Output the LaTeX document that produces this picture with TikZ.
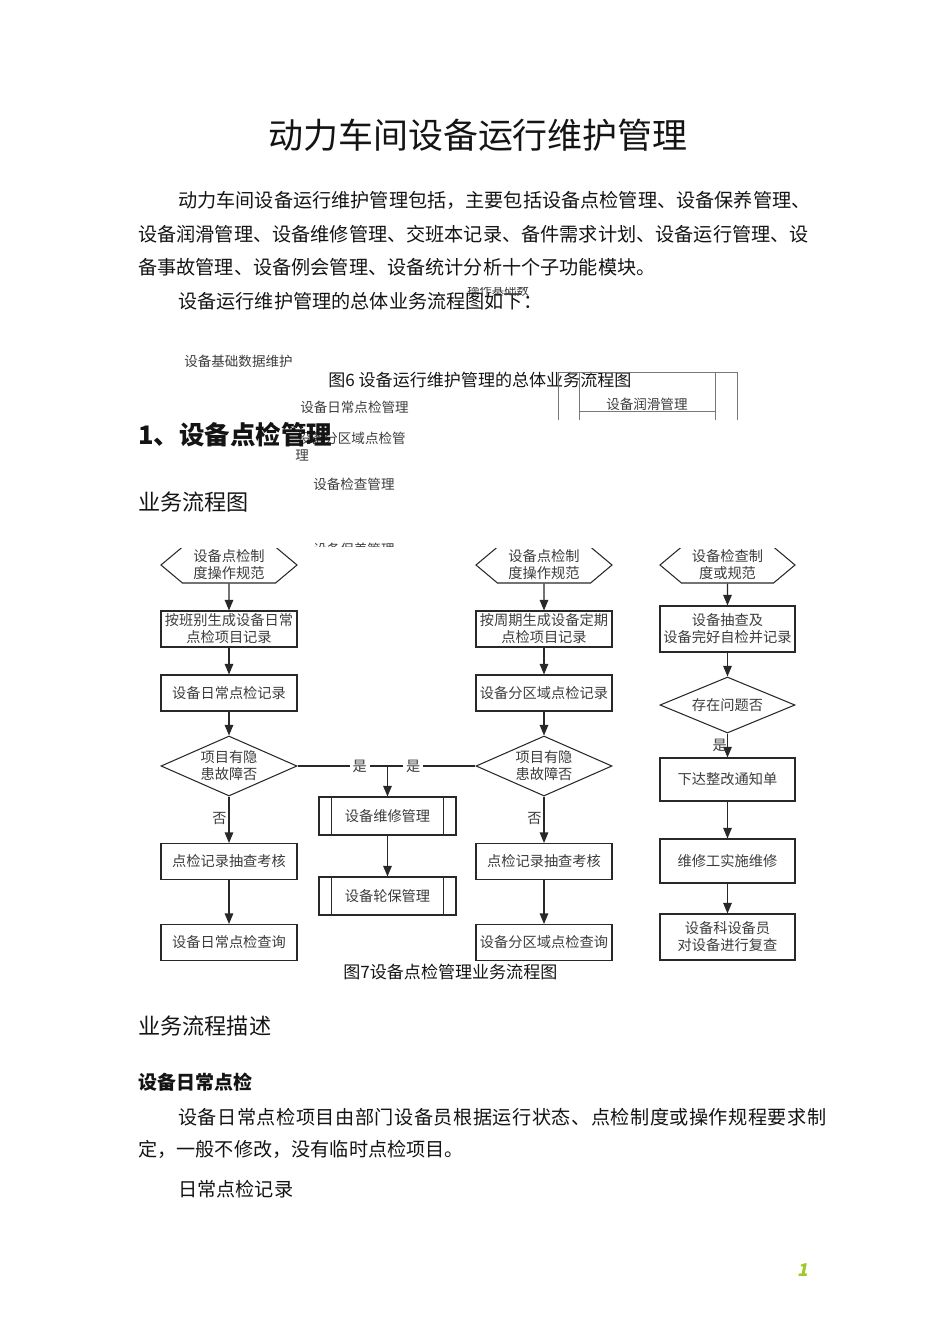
\documentclass[tikz,border=0pt]{standalone}
\usepackage{fontspec}
\setmainfont{Noto Sans CJK SC}
\usetikzlibrary{positioning,shapes.geometric,shapes.symbols,arrows.meta}
\definecolor{Ink}{RGB}{20,20,20}
\definecolor{Line}{RGB}{40,40,40}
\definecolor{Grey}{RGB}{60,60,60}
\definecolor{Faint}{RGB}{120,120,120}
\definecolor{Lime}{RGB}{160,200,40}

\begin{document}
\begin{tikzpicture}[x=0.2mm,y=-0.2mm,
    body/.style={anchor=west,inner sep=0pt,text=Ink,font=\fontsize{10.9}{13}\selectfont},
    head/.style={anchor=west,inner sep=0pt,text=Ink,font=\fontsize{12.6}{15}\selectfont},
    frag/.style={anchor=west,inner sep=0pt,text=Grey,font=\fontsize{7.7}{9}\selectfont},
    figcap/.style={anchor=west,inner sep=0pt,text=Ink,font=\fontsize{9.7}{11}\selectfont},
    proc/.style={rectangle,draw=Line,line width=0.6pt,minimum width=27.2mm,minimum height=7.2mm,inner sep=1pt,align=center,text=Grey,font=\fontsize{8.1}{9.7}\selectfont},
    hexa/.style={proc,signal,signal to=east and west,signal pointer angle=80},
    decide/.style={proc,diamond,aspect=2.3,inner sep=0pt,minimum height=12mm},
    sub/.style={proc,minimum width=27.4mm,minimum height=7.6mm},
    yes/.style={fill=white,inner sep=1.5pt,text=Grey,font=\fontsize{8.1}{9.7}\selectfont},
    arrow/.style={-{Triangle[length=2.1mm,width=1.7mm]},line width=0.6pt,draw=Line}
]
\useasboundingbox (0,0) rectangle (950,1344);

% Title and intro
\node[inner sep=0pt,text=Ink,font=\fontsize{19.9}{24}\selectfont] (title) at (478,135) {动力车间设备运行维护管理};
\node[body] (par1) at (178,200) {动力车间设备运行维护管理包括，主要包括设备点检管理、设备保养管理、};
\node[body] (par2) at (138,234) {设备润滑管理、设备维修管理、交班本记录、备件需求计划、设备运行管理、设};
\node[body] (par3) at (138,267) {备事故管理、设备例会管理、设备统计分析十个子功能模块。};
\node[body] (par4) at (178,301) {设备运行维护管理的总体业务流程图如下：};
\begin{scope}
  \clip (440,287) rectangle (560,310);
  \node[frag,font=\fontsize{7}{8}\selectfont] (cut1) at (467,291) {操作基础数};
\end{scope}

% Fragment of figure 6
\node[frag] (base) at (184,361) {设备基础数据维护};
\node[figcap] (cap6) at (328,380) {图6 设备运行维护管理的总体业务流程图};
\node[frag] (daily) at (300,407) {设备日常点检管理};
\node[frag] (area) at (297,438) {设备分区域点检管};
\node[frag] (area2) at (295,455) {理};
\node[frag] (insp) at (313,484) {设备检查管理};
\node[frag] (lube) at (606,404) {设备润滑管理};
\begin{scope}
  \clip (300,520) rectangle (420,546);
  \node[frag] (keep) at (313,549) {设备保养管理};
\end{scope}
\draw[Faint,line width=0.4pt] (558,372) -- (558,420) (579,372) -- (579,420)
  (715,372) -- (715,420) (737,372) -- (737,420)
  (558,372) -- (737,372) (579,411) -- (715,411);

% Headings
\node[anchor=west,inner sep=0pt,text=Ink,font=\fontsize{14.5}{17}\selectfont\bfseries] (sec1) at (138,435) {1、设备点检管理};
\node[head] (flowhd) at (138,502) {业务流程图};

% Figure 7 flowchart
\begin{scope}
\clip (100,548) rectangle (850,1000);

% Column 1: daily check
\node[hexa] (hex1) at (229,565) {设备点检制\\度操作规范};
\node[proc] (gen1) at (229,629) {按班别生成设备日常\\点检项目记录};
\node[proc] (rec1) at (229,693) {设备日常点检记录};
\node[decide] (dec1) at (229,766) {项目有隐\\患故障否};
\node[proc] (chk1) at (229,861.5) {点检记录抽查考核};
\node[proc] (qry1) at (229,942.5) {设备日常点检查询};

\draw[arrow] (hex1) -- (gen1);
\draw[arrow] (gen1) -- (rec1);
\draw[arrow] (rec1) -- (dec1);
\draw[arrow] (dec1) -- node[left,pos=0.47,inner sep=1pt,text=Grey,font=\fontsize{8.1}{9.7}\selectfont] {否} (chk1);
\draw[arrow] (chk1) -- (qry1);

% Column 2: area check
\node[hexa] (hex2) at (544,565) {设备点检制\\度操作规范};
\node[proc] (gen2) at (544,629) {按周期生成设备定期\\点检项目记录};
\node[proc] (rec2) at (544,693) {设备分区域点检记录};
\node[decide] (dec2) at (544,766) {项目有隐\\患故障否};
\node[proc] (chk2) at (544,861.5) {点检记录抽查考核};
\node[proc] (qry2) at (544,942.5) {设备分区域点检查询};

\draw[arrow] (hex2) -- (gen2);
\draw[arrow] (gen2) -- (rec2);
\draw[arrow] (rec2) -- (dec2);
\draw[arrow] (dec2) -- node[left,pos=0.47,inner sep=1pt,text=Grey,font=\fontsize{8.1}{9.7}\selectfont] {否} (chk2);
\draw[arrow] (chk2) -- (qry2);

% Middle: repair
\node[sub] (fix) at (387.5,816) {设备维修管理};
\node[sub] (rot) at (387.5,896) {设备轮保管理};
\foreach \n in {fix,rot} {
  \draw[Line,line width=0.6pt] ([xshift=2.6mm]\n.north west) -- ([xshift=2.6mm]\n.south west);
  \draw[Line,line width=0.6pt] ([xshift=-2.6mm]\n.north east) -- ([xshift=-2.6mm]\n.south east);
}
\coordinate (jn) at (fix.north |- dec1.east);
\draw[Line,line width=0.6pt] (dec1.east) -- node[yes,pos=0.35] {是} node[yes,pos=0.65] {是} (dec2.west);
\draw[arrow] (jn) -- (fix);
\draw[arrow] (fix) -- (rot);

% Column 3: inspection
\node[hexa,minimum width=27mm] (hex3) at (727.5,565) {设备检查制\\度或规范};
\node[proc,minimum width=27mm,minimum height=9.2mm] (spot) at (727.5,629) {设备抽查及\\设备完好自检并记录};
\node[decide,minimum width=27mm,minimum height=11.2mm] (dec3) at (727.5,705) {存在问题否};
\node[proc,minimum width=27mm,minimum height=8.6mm] (notice) at (727.5,779.5) {下达整改通知单};
\node[proc,minimum width=27mm,minimum height=8.8mm] (repair) at (727.5,861) {维修工实施维修};
\node[proc,minimum width=27mm,minimum height=9.2mm] (review) at (727.5,937) {设备科设备员\\对设备进行复查};

\draw[arrow] (hex3) -- (spot);
\draw[arrow] (spot) -- (dec3);
\draw[arrow] (dec3) -- node[left,pos=0.5,inner sep=0pt,text=Grey,font=\fontsize{8.1}{9.7}\selectfont] {是} (notice);
\draw[arrow] (notice) -- (repair);
\draw[arrow] (repair) -- (review);
\end{scope}

\node[figcap] (cap7) at (343,972) {图7设备点检管理业务流程图};

% Description
\node[head] (deschd) at (138,1026) {业务流程描述};
\node[anchor=west,inner sep=0pt,text=Ink,font=\fontsize{10.8}{13}\selectfont\bfseries] (sub1) at (138,1082) {设备日常点检};
\node[body] (par5) at (178,1117) {\addfontfeature{LetterSpace=2.6}设备日常点检项目由部门设备员根据运行状态、点检制度或操作规程要求制};
\node[body] (par6) at (138,1149) {定，一般不修改，没有临时点检项目。};
\node[body] (par7) at (178,1189) {日常点检记录};

% Page number
\node[anchor=west,inner sep=0pt,text=Lime,font=\fontsize{10}{12}\selectfont\bfseries\addfontfeature{FakeSlant=0.2}] (pgno) at (797,1270) {1};
\end{tikzpicture}
\end{document}
